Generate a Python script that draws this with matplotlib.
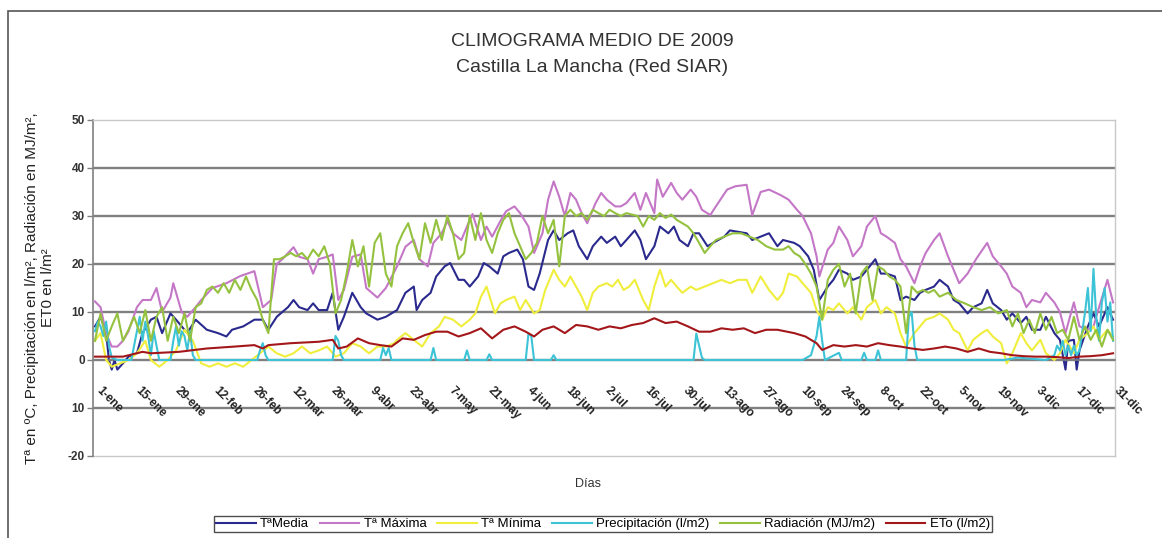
import matplotlib
matplotlib.use('Agg')
import matplotlib.pyplot as plt
import matplotlib.transforms as mtransforms
from matplotlib.patches import Rectangle
from matplotlib import font_manager as fm

# ---------------- data ----------------
tick_days = list(range(0, 365, 14))
tick_labels = ['1-ene', '15-ene', '29-ene', '12-feb', '26-feb', '12-mar', '26-mar',
               '9-abr', '23-abr', '7-may', '21-may', '4-jun', '18-jun', '2-jul',
               '16-jul', '30-jul', '13-ago', '27-ago', '10-sep', '24-sep', '8-oct',
               '22-oct', '5-nov', '19-nov', '3-dic', '17-dic', '31-dic']
y_ticks = [-20, -10, 0, 10, 20, 30, 40, 50]
y_tick_labels = ['-20', '10', '0', '10', '20', '30', '40', '50']

tmed_days = [0, 2, 4, 5, 6, 7, 8, 10, 12, 15, 17, 20, 22, 24, 27, 29, 33, 36, 40, 44, 47, 49, 53, 57, 60, 62,
             65, 69, 71, 73, 76, 78, 80, 83, 85, 87, 89, 92, 95, 97, 101, 104, 108,
             111, 114, 115, 117, 120, 122, 125, 127, 130, 132, 134, 137, 139, 141, 144, 146, 148, 151, 153,
             155, 157, 159, 162, 164, 166, 169, 171, 173, 176, 178, 181, 183, 186, 188, 190, 193, 195, 197,
             200, 202, 205, 207, 209, 212, 214, 216, 219, 221, 225, 227, 229, 233, 235,
             238, 241, 244, 246, 250, 252, 255, 257, 259, 262, 264, 266, 269, 271, 274, 276, 279, 281, 283,
             286, 288, 290, 293, 295, 297, 300, 302, 305, 307, 309, 312, 314, 317, 319, 321, 324, 326, 328,
             331, 333, 335, 338, 340, 343, 345, 347, 348, 350, 351, 352, 355, 357, 359, 362, 364]
tmed = [7, 9, 5.6, 0, -2, 0, -2, -0.7, 0.7, 1.4, 5.6, 8.4, 9, 5.6, 9.7, 8.4, 5.6, 8.4, 6.3, 5.6, 4.9, 6.3, 7, 8.4, 8.4, 6.3,
        9, 11, 12.5, 11, 10.4, 11.8, 10.4, 10.4, 14, 6.3, 9, 14, 11, 9.7, 8.4, 9, 10.4,
        14, 15.3, 10.4, 12.5, 14, 17.4, 19.5, 20.2, 16.7, 16.7, 15.3, 17.4, 20.2, 19.5, 18, 21.6, 22.3, 23, 21,
        15.3, 14.6, 18, 25, 27, 25, 26.4, 27, 23.7, 21, 23.7, 25.7, 24.4, 25.7, 23.7, 25, 27, 25, 21,
        23.7, 27.8, 26.4, 27.8, 25, 23.7, 26.4, 26.4, 23.7, 24.4, 25.7, 27, 26.8, 26.4, 25,
        25.7, 26.4, 23.7, 25, 24.4, 23.7, 21.6, 18.8, 12.5, 15.3, 16.7, 18.8, 18, 16.7, 17.4, 18.8, 21, 18, 18,
        17.4, 12.5, 13.2, 12.5, 14, 14.6, 15.3, 16.7, 15.3, 12.5, 11.8, 9.7, 11, 11.8, 14.6, 11.8, 10.4, 8.4, 9.7,
        7.7, 9, 6.3, 6.3, 9, 5.6, 4.2, -2, 4, 4.2, -2, 2, 7, 9.7, 7, 11, 8.4]

tmax_days = [0, 2, 4, 6, 8, 10, 12, 15, 17, 20, 22, 24, 27, 28, 31, 33, 36, 38, 42, 47, 52, 57, 60, 63, 65, 67,
             71, 73, 76, 78, 80, 83, 85, 87, 89, 92, 95, 97, 101, 104, 108,
             111, 114, 116, 119, 121, 124, 126, 128, 131, 133, 135, 138, 140, 142, 145, 147, 150, 152, 155,
             157, 160, 162, 164, 166, 168, 170, 172, 174, 176, 179, 181, 183, 186, 188, 190, 193, 195, 197,
             200, 201, 203, 206, 208, 210, 213, 215, 217, 220, 222, 226, 229, 233, 235,
             238, 241, 245, 248, 251, 253, 256, 258, 259, 262, 264, 266, 269, 271, 274, 276, 279, 281, 283,
             286, 288, 290, 293, 295, 297, 300, 302, 305, 307, 309, 312, 315, 319, 321, 324, 326, 328, 331,
             333, 335, 338, 340, 343, 345, 347, 350, 352, 355, 357, 359, 362, 364]
tmax = [12.2, 11, 5.5, 2.8, 2.8, 4, 6, 11, 12.5, 12.5, 15, 10, 13, 16, 10, 9, 11, 12.5, 15, 16, 17.5, 18.5, 11, 12.5, 20, 21,
        23.5, 21.5, 21, 18, 21, 21.5, 22, 12.5, 14.6, 21.5, 22, 15, 13, 15, 19.5,
        23.6, 25, 21, 19.5, 24.4, 26.4, 29, 26.4, 25, 27.8, 30.4, 25, 27.8, 25.7, 29, 31, 32, 30.6, 27.8,
        22.3, 26.4, 33.4, 37.2, 34, 30, 34.8, 33.4, 30.6, 28.5, 32.7, 34.8, 33.4, 32, 32, 32.7, 34.8, 31.3, 34.8,
        30.6, 37.6, 34, 36.9, 34.8, 33.4, 35.5, 34, 31.3, 30.2, 32, 35.5, 36.2, 36.5, 30.2,
        35, 35.5, 34.4, 33.4, 31.3, 30, 26.4, 21.6, 17.4, 23, 24.4, 27.8, 25, 21.6, 23.7, 27.8, 30, 26.4, 25.7,
        24.4, 21, 19.5, 16, 19.5, 22.3, 25, 26.4, 21.6, 18.8, 16, 18, 21, 24.4, 21.6, 19.5, 18, 15.3, 14,
        11, 12.5, 12, 14, 12, 10, 5.6, 12, 7, 6.3, 7, 11, 16.7, 12]

tmin_days = [0, 2, 4, 6, 9, 12, 15, 18, 20, 23, 26, 29, 32, 35, 38, 41, 44, 47, 50, 53, 56, 59, 62, 65, 68, 71,
             74, 77, 80, 83, 86, 89, 92, 95, 98, 101, 104, 107,
             108, 111, 114, 117, 120, 123, 125, 128, 131, 134, 136, 138, 140, 143, 145, 147, 150, 152, 154,
             157, 159, 161, 164, 166, 168, 170, 172, 174, 176, 178, 180, 183, 185, 187, 189, 191, 193, 196,
             198, 200, 202, 204, 206, 208, 210, 213, 215, 218, 221, 224, 227, 230, 233, 235,
             238, 241, 244, 246, 248, 251, 253, 256, 258, 260, 262, 264, 266, 269, 271, 274, 276, 279, 281,
             283, 286, 288, 290, 293, 295, 297, 300, 302, 305, 307, 309, 312, 314, 317, 319, 321, 324, 326,
             328, 331, 333, 335, 338, 340, 343, 345, 347, 350, 352, 355, 357, 359, 362, 364]
tmin = [4, 5.6, 0, -1.4, -0.7, 0, 1.4, 4, 0, -1.4, 0, 2, 6.3, 4, -0.7, -1.4, -0.7, -1.4, -0.7, -1.4, 0, 1.4, 2.8, 1.4, 0.7, 1.4,
        2.8, 1.4, 2, 2.8, 0.7, 1.4, 3.5, 2.8, 1.4, 2.8, 2.8, 3.5,
        4.2, 5.6, 4.2, 2.8, 5.6, 7, 9, 8.4, 7, 8.4, 9.7, 13.2, 15.3, 9.7, 11.8, 12.5, 13.2, 10.4, 12.5,
        9.7, 10.4, 14.6, 18.8, 16.7, 15.3, 17.4, 15.3, 13.2, 10.4, 14, 15.3, 16, 15.3, 16.7, 14.6, 15.3, 16.7, 12.5,
        10.4, 15.3, 18.8, 15.3, 16.7, 15.3, 14, 15.3, 14.6, 15.3, 16, 16.7, 16, 16.7, 16.7, 14,
        17.4, 14.6, 12.5, 14, 18, 17.4, 16, 14, 10.4, 8.4, 11, 10.4, 11.8, 9.7, 11, 8.4, 11, 12.5, 9.7,
        11, 9.7, 5.6, 2.8, 5.6, 7, 8.4, 9, 9.7, 8.4, 6.3, 5.6, 2, 4.2, 5.6, 6.3, 4.9, 3.5, -0.7,
        1.4, 5.6, 3.5, 2, 4.2, 1.4, 0, 1.4, 4.2, 1.4, 4.2, 5.6, 7, 4.2, 6.3, 4.9]

prec_days = [0, 1, 2, 3, 4, 5, 6, 8, 13, 14, 15, 16, 17, 18, 19, 20, 21, 22, 23, 27, 28, 29, 30, 31, 32, 33, 34,
             35, 36, 58, 59, 60, 61, 62, 85, 86, 87, 88, 89, 102, 103, 104, 105, 106, 120, 121, 122, 132, 133,
             134, 140, 141, 142, 154, 155, 156, 157, 163, 164, 165, 214, 215, 216, 217, 218, 253, 256, 258,
             259, 260, 261, 266, 267, 274, 275, 276, 279, 280, 281, 290, 291, 292, 293, 294, 325, 330, 340,
             343, 344, 345, 346, 347, 348, 349, 350, 351, 352, 353, 354, 355, 356, 357, 358, 359, 360, 361,
             362, 363, 364]
prec = [6, 8, 7, 5, 8, 3, 0.5, 0, 0, 3, 6, 9, 4, 8, 5, 1, 6, 3, 0, 0, 4, 7, 3, 6, 5, 2, 6,
        1, 0, 0, 2, 3.5, 1, 0, 0, 5, 4, 1, 0, 0, 2.5, 1, 2.5, 0, 0, 2.5, 0, 0, 2,
        0, 0, 1.2, 0, 0, 5.5, 5, 0, 0, 1, 0, 0, 5.5, 3, 0.5, 0, 0, 1, 5,
        9, 4, 0, 1.5, 0, 0, 1.5, 0, 0, 2, 0, 0, 9, 10, 3, 0, 0, 0.5, 0,
        1, 3, 2, 4, 1, 3, 1, 3, 1, 2, 6, 10, 15, 6, 19, 9, 4, 12, 15,
        8, 12, 4]

rad_days = list(range(0, 224, 2)) + [225, 228, 231, 234, 237, 240, 243, 246, 248, 250, 252, 254, 256, 258,
                                     260, 262, 264, 266, 268, 270, 272, 274, 276, 278, 280, 282, 284, 286,
                                     288, 290, 292, 294, 296, 298, 300, 302, 305, 308, 311, 314, 317, 320,
                                     323, 326, 328, 330, 332, 334, 336, 338, 340, 342, 344, 346, 348, 350,
                                     352, 354, 356, 358, 360, 362, 364]
rad = [4, 9.7, 4, 7, 9.7, 4, 6.3, 9, 5.6, 10.4, 4, 9, 11, 4, 9, 5.6, 9.7, 4, 11, 11.8,
       14.6, 15.3, 14, 16, 14, 16.7, 14.6, 17.4, 14.6, 12.5, 8.4, 5.6, 21, 21, 21.6, 22.3, 21.6, 22.3, 21, 23,
       21.6, 23.7, 20, 9.7, 12.5, 18, 25, 19.5, 23.7, 15.3, 24.4, 26.4, 18, 15.3, 23.7, 26.4, 28.5, 24.4, 21, 28.5,
       24.4, 29.2, 25, 30, 26.4, 21, 22.3, 30, 25, 30.6, 25, 22.3, 26.4, 29.2, 30.6, 26.4, 23.7, 21, 22.3, 24.4,
       30, 26.4, 29.2, 19.5, 30, 31.3, 30, 30.6, 29.2, 31.3, 30.6, 30, 31.3, 30.6, 30, 30.6, 30.3, 30, 27.8, 30,
       29.2, 30.6, 29.6, 30.3, 29.2, 28.5, 27.8, 26.4, 24.4, 22.3, 23.7, 25,
       25.7, 26.4, 26.4, 25.7, 25, 23.7, 23, 23, 23.7, 22.3, 21.6, 20, 18, 15.3,
       8.4, 16.7, 18.8, 20, 15.3, 18, 9.7, 18, 19.5, 12.5, 19.5, 18.8, 17.4, 16.7,
       15.3, 5.6, 15.3, 14, 14.6, 14, 14.6, 13.2, 14, 12.5, 11.8, 11, 10.4, 11,
       9.7, 10.4, 7, 9.7, 5.6, 8.4, 5.6, 9.7, 6.3, 9, 5.6, 6.3, 4.2, 9,
       4.2, 7, 4.2, 6.3, 2.8, 6.3, 4.2]

eto_days = [0, 10, 17, 20, 30, 40, 50, 57, 60, 62, 70, 80, 85, 87, 90, 94, 98, 102, 106, 110, 114, 118, 122,
            126, 130, 134, 138, 142, 146, 150, 154, 157, 160, 164, 168, 172, 176, 180, 184, 188, 192, 196,
            200, 204, 208, 212, 216, 220, 224, 228, 232, 236, 240, 244, 250, 254, 258, 260, 264, 268, 272,
            276, 280, 284, 288, 292, 296, 300, 304, 308, 312, 316, 320, 324, 328, 332, 336, 340, 344, 348,
            352, 356, 360, 364]
eto = [0.7, 0.7, 1.7, 1.4, 1.7, 2.4, 2.8, 3.1, 2.4, 3.1, 3.5, 3.8, 4.2, 2.4, 2.8, 4.5, 3.5, 3.1, 2.8, 4.5, 4.2, 5.2, 5.9,
       5.9, 4.9, 5.6, 6.6, 4.5, 6.3, 7, 5.9, 4.9, 6.3, 7, 5.6, 7.3, 7, 6.3, 7, 6.6, 7.3, 7.7,
       8.7, 7.7, 8, 7, 5.9, 5.9, 6.6, 6.3, 6.6, 5.6, 6.3, 6.3, 5.6, 4.9, 3.5, 2.1, 3.1, 2.8, 3.1,
       2.8, 3.5, 3.1, 2.8, 2.4, 2.1, 2.4, 2.8, 2.4, 1.7, 2.4, 1.7, 1.4, 1.0, 0.8, 0.7, 0.7, 0.6, 0.4,
       0.7, 0.8, 1.0, 1.4]

series_labels = ['TªMedia', 'Tª Máxima', 'Tª Mínima', 'Precipitación (l/m2)', 'Radiación (MJ/m2)', 'ETo (l/m2)']
series_colors = ['#2A2A8E', '#C477C6', '#F0EE3C', '#3CC3D6', '#94C23E', '#A3171B']

# ---------------- fonts ----------------
names = {f.name for f in fm.fontManager.ttflist}
base = 'Liberation Sans' if 'Liberation Sans' in names else 'DejaVu Sans'
title_font = 'Liberation Sans Narrow' if 'Liberation Sans Narrow' in names else base
plt.rcParams['font.family'] = [base, 'DejaVu Sans']

W, H = 1162, 538
fig = plt.figure(figsize=(W / 100, H / 100), dpi=100)
fig.patch.set_facecolor('white')

# outer chart frame
fig.add_artist(Rectangle((8 / W, -0.05), 1.2, (1 - 11 / H) + 0.05, transform=fig.transFigure,
                         fill=False, edgecolor='#555555', lw=1.2))

ax = fig.add_axes([93 / W, 1 - 456 / H, (1115 - 93) / W, (456 - 120) / H])
ax.set_xlim(-0.7, 364.7)
ax.set_ylim(-20, 50)

for v in [-10, 0, 10, 20, 30, 40]:
    ax.axhline(v, color='#808080', lw=1.7, zorder=0.5)
ax.axhline(-20, color='#c8c8c8', lw=1.0, zorder=0.5, clip_on=False)

xs = [tmed_days, tmax_days, tmin_days, prec_days, rad_days, eto_days]
ys = [tmed, tmax, tmin, prec, rad, eto]
handles = []
for i, (xd, yd) in enumerate(zip(xs, ys)):
    h, = ax.plot(xd, yd, color=series_colors[i], lw=1.5, label=series_labels[i], zorder=2 + i,
                 solid_joinstyle='round')
    handles.append(h)

for s in ['top', 'right']:
    ax.spines[s].set_color('#c8c8c8')
    ax.spines[s].set_linewidth(1.0)
ax.spines['left'].set_color('#808080')
ax.spines['left'].set_linewidth(1.2)
ax.spines['bottom'].set_position(('data', 0))
ax.spines['bottom'].set_color('#808080')
ax.spines['bottom'].set_linewidth(1.2)

ax.set_yticks(y_ticks)
ax.set_yticklabels(y_tick_labels, fontsize=8.5, color='#333333', fontweight='bold')
ax.tick_params(axis='y', length=4, width=1, color='#808080', pad=2)

ax.set_xticks(tick_days)
ax.set_xticklabels(tick_labels, fontsize=8.5, color='#222222', fontweight='bold')
ax.tick_params(axis='x', length=0, pad=21)
off = mtransforms.ScaledTranslation(3 / 100, 0, fig.dpi_scale_trans)
for lbl in ax.get_xticklabels():
    lbl.set_rotation(-45)
    lbl.set_rotation_mode('anchor')
    lbl.set_ha('left')
    lbl.set_va('center')
    lbl.set_transform(lbl.get_transform() + off)

# titles and labels
fig.text(592 / W, 1 - 42 / H, 'CLIMOGRAMA MEDIO DE 2009', ha='center', va='center',
         fontsize=14, color='#333333', family=[title_font, 'DejaVu Sans'])
fig.text(592 / W, 1 - 68 / H, 'Castilla La Mancha (Red SIAR)', ha='center', va='center',
         fontsize=14, color='#333333', family=[title_font, 'DejaVu Sans'])
fig.text(40 / W, 1 - 288 / H,
         'Tª en ºC, Precipitación en l/m², Radiación en MJ/m²,\nET0 en l/m²',
         rotation=90, ha='center', va='center', multialignment='center',
         fontsize=11, color='#222222', linespacing=1.15)
fig.text(588 / W, 1 - 484 / H, 'Días', ha='center', va='center', fontsize=9,
         color='#333333')

leg = fig.legend(handles=handles, labels=series_labels, loc='center',
                 bbox_to_anchor=(603 / W, 1 - 524 / H), ncol=6, fontsize=9.5,
                 frameon=True, fancybox=False, edgecolor='#222222', borderpad=0.15,
                 columnspacing=0.8, handlelength=3.0, handletextpad=0.35, borderaxespad=0)
leg.get_frame().set_linewidth(1.0)

fig.savefig('out.png', dpi=100, facecolor='white')
